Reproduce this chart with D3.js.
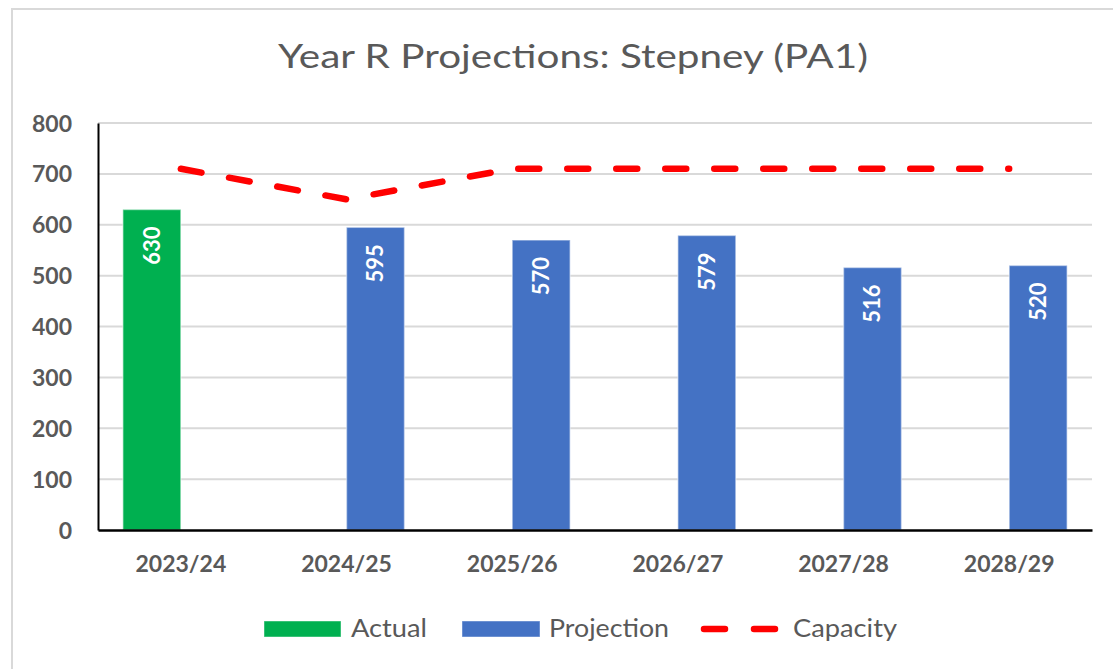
<!DOCTYPE html>
<html>
<head>
<meta charset="utf-8">
<script src="https://cdn.jsdelivr.net/npm/d3@7"></script>
<style>
  html, body { margin: 0; padding: 0; background: #fff; }
  svg { display: block; }
</style>
</head>
<body>
<svg id="chart" width="1113" height="669"></svg>
<script>
// ---- data ----
const categories = ["2023/24", "2024/25", "2025/26", "2026/27", "2027/28", "2028/29"];
const actual = [630, null, null, null, null, null];
const projection = [null, 595, 570, 579, 516, 520];
const capacity = [710, 650, 710, 710, 710, 710];
const yTicks = [0, 100, 200, 300, 400, 500, 600, 700, 800];
const seriesNames = ["Actual", "Projection", "Capacity"];
const titleText = "Year R Projections: Stepney (PA1)";

// ---- layout ----
const svg = d3.select("#chart");
const W = 1113, H = 669;
const plot = { left: 98, right: 1092, top: 123, bottom: 530 };
const textColor = "#595959";
const colors = { Actual: "#00B050", Projection: "#4472C4", Capacity: "#FF0000" };
const fontFamily = "Lato, 'Open Sans', 'Liberation Sans', sans-serif";

svg.append("rect").attr("x", 0).attr("y", 0).attr("width", W).attr("height", H).attr("fill", "#fff");
// chart border (cropped at right/bottom)
svg.append("rect")
  .attr("x", 12).attr("y", 9).attr("width", W + 20).attr("height", H + 20)
  .attr("fill", "#fff").attr("stroke", "#D9D9D9").attr("stroke-width", 2);

// title
svg.append("text")
  .attr("x", 573).attr("y", 68)
  .attr("text-anchor", "middle")
  .attr("font-family", fontFamily).attr("font-size", 32)
  .attr("fill", textColor)
  .attr("textLength", 590).attr("lengthAdjust", "spacingAndGlyphs")
  .text(titleText);

// scales
const x0 = d3.scaleBand().domain(categories).range([plot.left, plot.right]).paddingInner(0).paddingOuter(0);
const x1 = d3.scaleBand().domain(["Actual", "Projection"]).range([0, x0.bandwidth()]).paddingInner(0).paddingOuter(0.4286);
const y = d3.scaleLinear().domain([0, 800]).range([plot.bottom, plot.top]);

// gridlines
svg.append("g")
  .selectAll("line").data(yTicks.filter(d => d > 0)).join("line")
  .attr("x1", plot.left).attr("x2", plot.right)
  .attr("y1", d => y(d)).attr("y2", d => y(d))
  .attr("stroke", "#D9D9D9").attr("stroke-width", 2);

// y axis
const yAxis = d3.axisLeft(y).tickValues(yTicks).tickSize(0).tickPadding(26);
const gy = svg.append("g").attr("transform", `translate(${plot.left},0)`).call(yAxis);
gy.select(".domain").attr("stroke", "#000").attr("stroke-width", 2);
gy.selectAll("text")
  .attr("font-family", fontFamily).attr("font-size", 23).attr("font-weight", "bold")
  .attr("fill", textColor).attr("dy", "0.35em");

// bars
const barData = [];
categories.forEach((c, i) => {
  if (actual[i] != null) barData.push({ cat: c, series: "Actual", value: actual[i] });
  if (projection[i] != null) barData.push({ cat: c, series: "Projection", value: projection[i] });
});
const bars = svg.append("g");
bars.selectAll("rect").data(barData).join("rect")
  .attr("x", d => x0(d.cat) + x1(d.series))
  .attr("width", x1.bandwidth())
  .attr("y", d => y(d.value))
  .attr("height", d => y(0) - y(d.value))
  .attr("fill", d => colors[d.series])
  .attr("stroke", "rgba(255,255,255,0.45)").attr("stroke-width", 1.5);

// data labels
bars.selectAll("text").data(barData).join("text")
  .attr("transform", d => `translate(${x0(d.cat) + x1(d.series) + x1.bandwidth() / 2},${y(d.value) + 17}) rotate(-90)`)
  .attr("text-anchor", "end")
  .attr("dy", "0.36em")
  .attr("font-family", fontFamily).attr("font-size", 22).attr("font-weight", "bold")
  .attr("fill", "#fff")
  .text(d => d.value);

// x axis
const xAxis = d3.axisBottom(x0).tickSize(0).tickPadding(26);
const gx = svg.append("g").attr("transform", `translate(0,${plot.bottom})`).call(xAxis);
gx.select(".domain").attr("stroke", "#000").attr("stroke-width", 2.5);
gx.selectAll("text")
  .attr("font-family", fontFamily).attr("font-size", 23).attr("font-weight", "bold")
  .attr("fill", textColor);

// capacity line
const line = d3.line()
  .x((d, i) => x0(categories[i]) + x0.bandwidth() / 2)
  .y(d => y(d));
svg.append("path")
  .datum(capacity)
  .attr("d", line)
  .attr("fill", "none")
  .attr("stroke", colors.Capacity)
  .attr("stroke-width", 6.5)
  .attr("stroke-linecap", "round")
  .attr("stroke-dasharray", "21 28");

// legend
const legend = svg.append("g").attr("font-family", fontFamily).attr("font-size", 25).attr("fill", textColor);
const legendItems = [
  { name: "Actual", sx: 264, sw: 77, tx: 351, tw: 76 },
  { name: "Projection", sx: 462, sw: 78, tx: 549, tw: 120 },
  { name: "Capacity", sx: 701, sw: 77, tx: 793, tw: 104 }
];
legendItems.forEach(it => {
  if (it.name === "Capacity") {
    legend.append("line")
      .attr("x1", it.sx + 3).attr("x2", it.sx + it.sw - 3)
      .attr("y1", 629).attr("y2", 629)
      .attr("stroke", colors.Capacity).attr("stroke-width", 6.5)
      .attr("stroke-linecap", "round").attr("stroke-dasharray", "21 29");
  } else {
    legend.append("rect")
      .attr("x", it.sx).attr("y", 621).attr("width", it.sw).attr("height", 16)
      .attr("fill", colors[it.name])
      .attr("stroke", "rgba(255,255,255,0.45)").attr("stroke-width", 1);
  }
  legend.append("text")
    .attr("x", it.tx).attr("y", 637)
    .attr("textLength", it.tw).attr("lengthAdjust", "spacingAndGlyphs")
    .text(it.name);
});
</script>
</body>
</html>
